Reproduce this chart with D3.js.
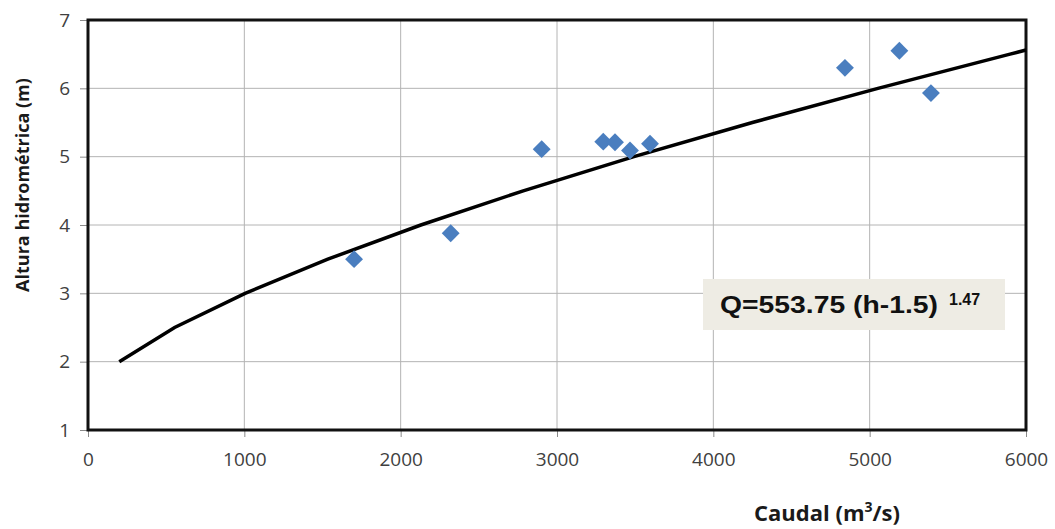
<!DOCTYPE html>
<html lang="es">
<head>
  <meta charset="UTF-8">
  <title>Curva de gasto</title>
  <script src="https://d3js.org/d3.v7.min.js"></script>
  <style>
    body { margin: 0; background: white; }
    .grid line { stroke: #b4b4b4; stroke-width: 1px; }
    .axis text { font-family: "Open Sans", sans-serif; font-size: 19px; fill: #404040; }
    .axis line { stroke: #8a8a8a; }
    .axis path { display: none; }
    .frame { fill: none; stroke: #111; stroke-width: 3px; }
    .curve { fill: none; stroke: #000; stroke-width: 3.5px; }
    .pt { fill: #4a7ebf; }
    .lbl { font-family: "Open Sans", sans-serif; font-weight: bold; fill: #1a1a1a; }
  </style>
</head>
<body>
<svg width="1055" height="529"></svg>
<script>
  // measured points (caudal m3/s, altura m)
  var caudal = [1702, 2320, 2902, 3296, 3371, 3467, 3595, 4842, 5190, 5392];
  var altura = [3.50, 3.88, 5.11, 5.22, 5.21, 5.09, 5.19, 6.30, 6.55, 5.93];

  // rating curve Q=553.75 (h-1.5)^1.47
  var curveQ = [200, 554, 1005, 1534, 2129, 2784, 3492, 4250, 5053, 5898, 6000];
  var curveH = [2.0, 2.5, 3.0, 3.5, 4.0, 4.5, 5.0, 5.5, 6.0, 6.5, 6.56];

  var xTicks = [0, 1000, 2000, 3000, 4000, 5000, 6000];
  var yTicks = [1, 2, 3, 4, 5, 6, 7];

  var margin = { left: 88, top: 20, right: 29, bottom: 99 };
  var width = 1055 - margin.left - margin.right;
  var height = 529 - margin.top - margin.bottom;

  var svg = d3.select("svg");
  var g = svg.append("g").attr("transform", "translate(" + margin.left + "," + margin.top + ")");

  var x = d3.scaleLinear().domain([0, 6000]).range([0, width]);
  var y = d3.scaleLinear().domain([1, 7]).range([height, 0]);

  // grid
  g.append("g").attr("class", "grid")
    .selectAll("line.v").data(xTicks).enter().append("line")
    .attr("x1", d => x(d)).attr("x2", d => x(d))
    .attr("y1", 0).attr("y2", height);
  g.append("g").attr("class", "grid")
    .selectAll("line.h").data(yTicks).enter().append("line")
    .attr("x1", 0).attr("x2", width)
    .attr("y1", d => y(d)).attr("y2", d => y(d));

  // axes
  g.append("g").attr("class", "axis")
    .attr("transform", "translate(0," + height + ")")
    .call(d3.axisBottom(x).tickValues(xTicks).tickSize(7).tickPadding(16).tickFormat(d3.format("d")));
  g.append("g").attr("class", "axis")
    .call(d3.axisLeft(y).tickValues(yTicks).tickSize(8).tickPadding(10).tickFormat(d3.format("d")));

  g.append("rect").attr("class", "frame")
    .attr("width", width).attr("height", height);

  // fitted curve
  var line = d3.line().x(d => x(d[0])).y(d => y(d[1]));
  g.append("path").attr("class", "curve")
    .datum(curveQ.map((q, i) => [q, curveH[i]]))
    .attr("d", line);

  // observations
  g.selectAll(".pt").data(caudal.map((q, i) => [q, altura[i]]))
    .enter().append("path").attr("class", "pt")
    .attr("d", d3.symbol().type(d3.symbolSquare).size(160))
    .attr("transform", d => "translate(" + x(d[0]) + "," + y(d[1]) + ") rotate(45)");

  // equation box
  var box = g.append("g").attr("transform", "translate(" + (703 - margin.left) + "," + (279 - margin.top) + ")");
  box.append("rect").attr("width", 302).attr("height", 51).attr("fill", "#eeece4");
  box.append("text")
    .attr("x", 17).attr("y", 34)
    .attr("textLength", 218).attr("lengthAdjust", "spacingAndGlyphs")
    .style("font-family", "Arial, 'Liberation Sans', sans-serif")
    .style("font-weight", "bold").style("font-size", "24px").style("fill", "#111")
    .text("Q=553.75 (h-1.5)");
  box.append("text")
    .attr("x", 246).attr("y", 26)
    .style("font-family", "Arial, 'Liberation Sans', sans-serif")
    .style("font-weight", "bold").style("font-size", "16px").style("fill", "#111")
    .text("1.47");

  // axis titles
  svg.append("text").attr("class", "lbl")
    .attr("transform", "translate(29,185) rotate(-90)")
    .attr("text-anchor", "middle").style("font-size", "18px")
    .text("Altura hidrométrica (m)");

  var xl = svg.append("text").attr("class", "lbl")
    .attr("x", 827).attr("y", 521)
    .attr("text-anchor", "middle").style("font-size", "22px");
  xl.append("tspan").text("Caudal (m");
  xl.append("tspan").attr("dy", -9).style("font-size", "14px").text("3");
  xl.append("tspan").attr("dy", 9).text("/s)");
</script>
</body>
</html>
